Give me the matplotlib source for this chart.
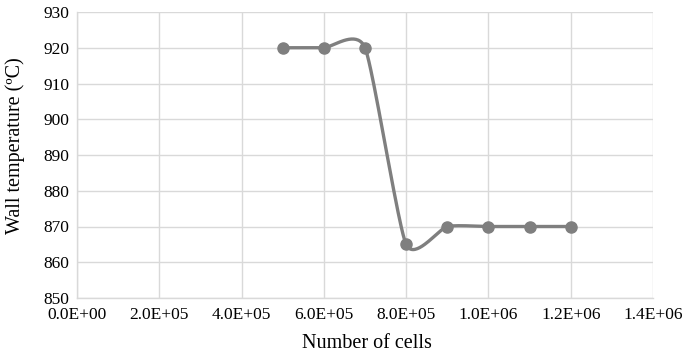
import numpy as np
import matplotlib
matplotlib.use("Agg")
import matplotlib.pyplot as plt

cells = [5.0e5, 6.0e5, 7.0e5, 8.0e5, 9.0e5, 1.0e6, 1.1e6, 1.2e6]
wall_temp = [920, 920, 920, 865, 870, 870, 870, 870]
x_ticks = [0, 2e5, 4e5, 6e5, 8e5, 1.0e6, 1.2e6, 1.4e6]
x_tick_labels = ["0.0E+00", "2.0E+05", "4.0E+05", "6.0E+05", "8.0E+05",
                 "1.0E+06", "1.2E+06", "1.4E+06"]
y_ticks = [850, 860, 870, 880, 890, 900, 910, 920, 930]

plt.rcParams['font.family'] = ['Liberation Serif', 'DejaVu Serif']

def smooth(xs, ys, k=0.1, n=40):
    xs = np.asarray(xs, float); ys = np.asarray(ys, float)
    ox, oy = [], []
    m = len(xs)
    for i in range(m - 1):
        p0 = (xs[i], ys[i]); p3 = (xs[i + 1], ys[i + 1])
        pm = (xs[i - 1], ys[i - 1]) if i > 0 else p0
        pp = (xs[i + 2], ys[i + 2]) if i + 2 < m else p3
        c1 = (p0[0] + k * (p3[0] - pm[0]), p0[1] + k * (p3[1] - pm[1]))
        c2 = (p3[0] - k * (pp[0] - p0[0]), p3[1] - k * (pp[1] - p0[1]))
        t = np.linspace(0, 1, n)
        bx = (1-t)**3*p0[0] + 3*(1-t)**2*t*c1[0] + 3*(1-t)*t**2*c2[0] + t**3*p3[0]
        by = (1-t)**3*p0[1] + 3*(1-t)**2*t*c1[1] + 3*(1-t)*t**2*c2[1] + t**3*p3[1]
        ox.extend(bx); oy.extend(by)
    return np.array(ox), np.array(oy)

fig = plt.figure(figsize=(6.85, 3.58), dpi=100)
ax = fig.add_axes([77/685, 60/358, 576/685, 286/358])

sx, sy = smooth(cells, wall_temp)
ax.plot(sx, sy, color='#7f7f7f', lw=2.4, solid_capstyle='round', zorder=3)
ax.plot(cells, wall_temp, 'o', color='#7f7f7f', ms=8, zorder=4)

ax.set_xlim(0, 1.4e6)
ax.set_ylim(850, 930)
ax.set_xticks(x_ticks)
ax.set_xticklabels(x_tick_labels)
ax.set_yticks(y_ticks)
ax.grid(True, color='#d9d9d9', lw=1.0)
ax.set_axisbelow(True)
for s in ['top', 'right']:
    ax.spines[s].set_visible(False)
for s in ['left', 'bottom']:
    ax.spines[s].set_color('#d9d9d9')
    ax.spines[s].set_linewidth(1.0)
ax.tick_params(axis='both', length=0, labelsize=12.5, colors='#000000')
ax.tick_params(axis='x', pad=6.5)
ax.tick_params(axis='y', pad=5.5)

fig.text(367/685, (358-343)/358, "Number of cells", ha='center', va='center', fontsize=14.5)
fig.text(15/685, (358-146)/358, "Wall temperature (ºC)", ha='center', va='center',
         rotation=90, fontsize=14.5)

fig.savefig("out.png", dpi=100)
